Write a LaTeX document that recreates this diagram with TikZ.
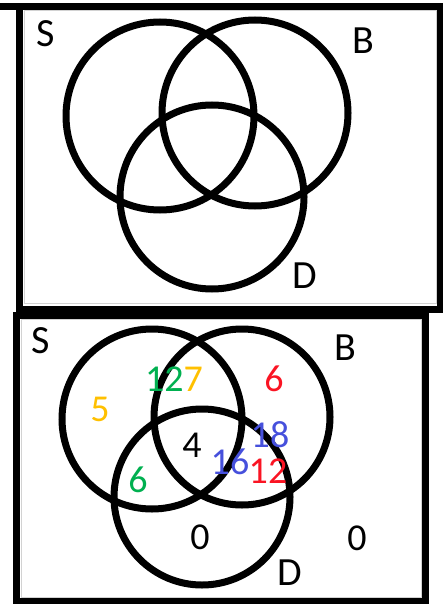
\documentclass[tikz,border=0pt]{standalone}
\usepackage{fontspec}
\setmainfont{Carlito}
\usepackage{xcolor}
\usepackage{tikz}
\definecolor{cg}{RGB}{0,176,80}
\definecolor{cy}{RGB}{255,192,0}
\definecolor{cr}{RGB}{250,20,35}
\definecolor{cb}{RGB}{70,80,220}
\tikzset{ring/.style={draw,circle,line width=7pt,minimum size=#1,inner sep=0pt},
  ring/.default=184pt,
  lab/.style={inner sep=0pt,font=\fontsize{40}{40}\selectfont},
  num/.style={inner sep=0pt,font=\fontsize{38}{38}\selectfont},
  frameline/.style={line width=7pt},
  innerline/.style={draw=gray!35,line width=1pt}}

\begin{document}
\begin{tikzpicture}[x=1pt,y=-1pt]
\useasboundingbox (0,0) rectangle (443,604);
% upper panel
\draw[frameline] (19,6.5) rectangle (440,309);
\draw[frameline] (0,6.5) -- (19,6.5);
\draw[innerline] (24,11) rectangle (436,303.5);
\node[ring=188pt] (s1) at (160,116) {};
\node[ring=186pt] (b1) at (255,113) {};
\node[ring=184pt] (d1) at (212,197) {};
\node[lab] (ls1) at (46,34) {S};
\node[lab] (lb1) at (363,41) {B};
\node[lab] (ld1) at (305,276) {D};
% lower panel
\draw[frameline] (16.5,315) rectangle (425,601);
\draw[innerline] (21,319.5) rectangle (421,597.5);
\node[ring=180pt] (s2) at (152,419) {};
\node[ring=176pt] (b2) at (242,417) {};
\node[ring=176pt] (d2) at (202,497) {};
\node[lab] (ls2) at (41,341) {S};
\node[lab] (lb2) at (345,348) {B};
\node[lab] (ld2) at (290,573) {D};
\node[num] (sb) at (174,379) {\textcolor{cg}{12}\textcolor{cy}{7}};
\node[num,text=cr] (bonly) at (274,379) {6};
\node[num,text=cy] (sonly) at (100,409) {5};
\node[num] (all) at (192,445) {4};
\node[num,text=cb] (bd1) at (270,435) {18};
\node[num,text=cb] (bd2) at (230,462) {16};
\node[num,text=cr] (bd3) at (268,471) {12};
\node[num,text=cg] (sd) at (138,480) {6};
\node[num] (donly) at (200,537) {0};
\node[num] (none) at (357,538) {0};
\end{tikzpicture}
\end{document}
